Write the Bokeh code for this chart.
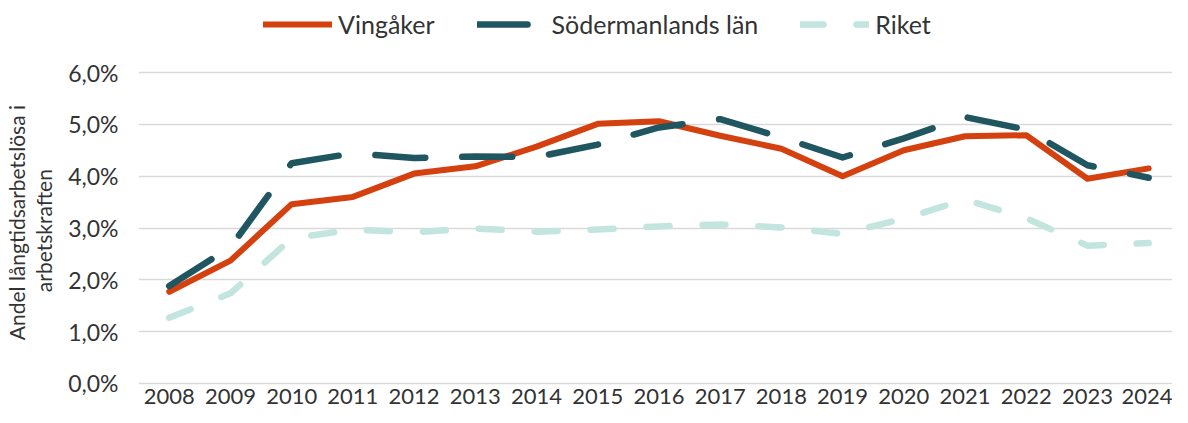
from bokeh.plotting import figure
from bokeh.models import Legend, LegendItem, FixedTicker, Range1d, LinearAxis
from bokeh.embed import file_html
from bokeh.resources import INLINE

years = list(range(2008, 2025))
vingaker = [1.77, 2.37, 3.46, 3.60, 4.05, 4.19, 4.57, 5.01, 5.06, 4.78, 4.53, 4.00, 4.50, 4.77, 4.79, 3.95, 4.15]
sodermanland = [1.88, 2.63, 4.25, 4.44, 4.35, 4.38, 4.37, 4.61, 4.94, 5.10, 4.75, 4.36, 4.73, 5.14, 4.90, 4.21, 3.97]
riket = [1.27, 1.74, 2.80, 2.97, 2.92, 2.99, 2.93, 2.97, 3.03, 3.07, 3.01, 2.89, 3.18, 3.55, 3.19, 2.66, 2.71]
y_ticks = [0, 1, 2, 3, 4, 5, 6]
y_tick_labels = ["0,0%", "1,0%", "2,0%", "3,0%", "4,0%", "5,0%", "6,0%"]
series_names = ["Vingåker", "Södermanlands län", "Riket"]
y_title_lines = ["Andel långtidsarbetslösa i", "arbetskraften"]

FONT = "Lato"
TXT = "#333333"
NBSP = "\u00a0"

p = figure(width=1172, height=415, output_backend="svg", toolbar_location=None, title=None,
           x_range=Range1d(2007.498, 2024.389), y_range=Range1d(-0.0386, 7.3895),
           min_border_left=129, min_border_right=0, min_border_top=0, min_border_bottom=30)
p.outline_line_color = None
p.background_fill_color = "white"

p.xgrid.grid_line_color = None
p.ygrid.grid_line_color = "#D9D9D9"
p.ygrid.grid_line_width = 1.5
p.ygrid.ticker = FixedTicker(ticks=y_ticks)

p.yaxis.ticker = FixedTicker(ticks=y_ticks)
p.yaxis.major_label_overrides = {t: l for t, l in zip(y_ticks, y_tick_labels)}
p.xaxis.ticker = FixedTicker(ticks=years)
p.xaxis.major_label_overrides = {y: str(y) for y in years}
for ax in (p.xaxis, p.yaxis):
    ax.axis_line_color = None
    ax.major_tick_line_color = None
    ax.minor_tick_line_color = None
    ax.major_tick_out = 0
    ax.major_tick_in = 0
    ax.major_label_text_font = FONT
    ax.major_label_text_color = TXT
p.xaxis.major_label_text_font_size = "22px"
p.yaxis.major_label_text_font_size = "23px"
p.yaxis.major_label_standoff = 20
p.xaxis.major_label_standoff = 3

# inner line of the y title on the main axis, outer line on a label-only axis
p.yaxis.axis_label = y_title_lines[1] + NBSP * 14
p.yaxis.axis_label_text_font = FONT
p.yaxis.axis_label_text_font_style = "normal"
p.yaxis.axis_label_text_font_size = "21px"
p.yaxis.axis_label_text_color = TXT
p.yaxis.axis_label_standoff = 9

outer = LinearAxis(ticker=FixedTicker(ticks=[]), axis_label=y_title_lines[0] + NBSP * 11,
                   axis_line_color=None, major_tick_line_color=None, minor_tick_line_color=None,
                   major_tick_out=0, major_tick_in=0, minor_tick_out=0, major_label_standoff=0,
                   axis_label_standoff=0, axis_label_text_font=FONT, axis_label_text_font_style="normal",
                   axis_label_text_font_size="21px", axis_label_text_color=TXT)
p.add_layout(outer, "left")

r1 = p.line(years, vingaker, line_color="#D5400F", line_width=6, line_join="round", line_cap="round")
r2 = p.line(years, sodermanland, line_color="#1F5660", line_width=6.5, line_dash="50 37",
            line_join="round", line_cap="round")
r3 = p.line(years, riket, line_color="#C3E5E0", line_width=6.5, line_dash="23 33",
            line_join="round", line_cap="round")

legend = Legend(items=[LegendItem(label=series_names[0], renderers=[r1]),
                       LegendItem(label=series_names[1], renderers=[r2]),
                       LegendItem(label=series_names[2], renderers=[r3])],
                orientation="horizontal", location=(125, 346))
legend.margin = 0
legend.padding = 0
legend.border_line_color = None
legend.background_fill_alpha = 0
legend.glyph_width = 69
legend.glyph_height = 28
legend.label_height = 28
legend.label_standoff = 6
legend.spacing = 42
legend.label_text_font = FONT
legend.label_text_font_size = "25px"
legend.label_text_color = TXT
p.add_layout(legend, "center")

open("out.html", "w").write(file_html(p, INLINE))
